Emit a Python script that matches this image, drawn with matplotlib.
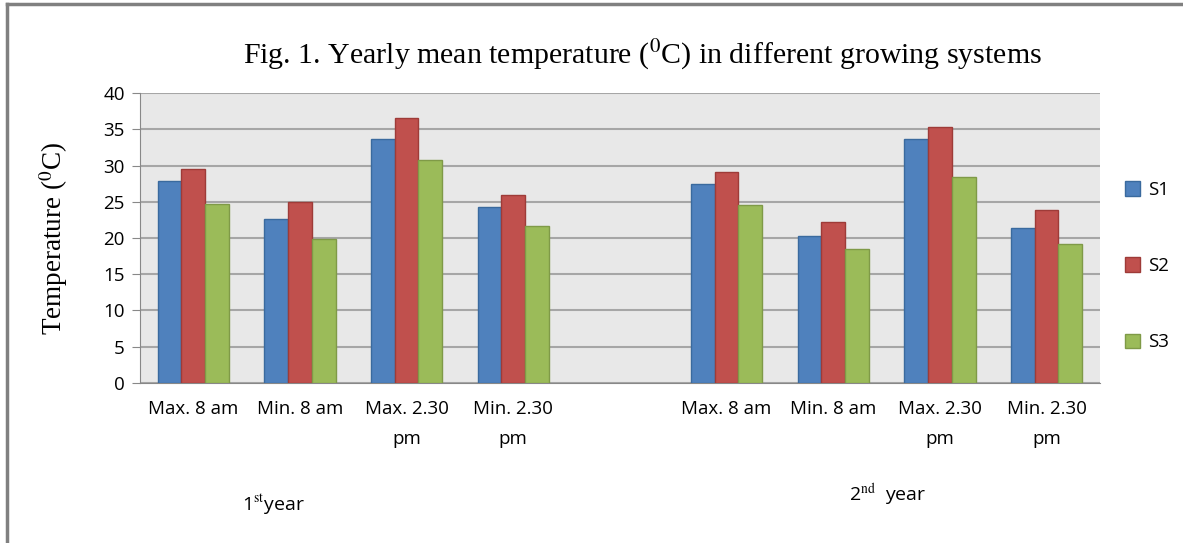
import numpy as np
import matplotlib
matplotlib.use("Agg")
import matplotlib.pyplot as plt
from matplotlib.lines import Line2D

plt.rcParams["mathtext.fontset"] = "stix"

categories = ["Max. 8 am", "Min. 8 am", "Max. 2.30\npm", "Min. 2.30\npm", "",
              "Max. 8 am", "Min. 8 am", "Max. 2.30\npm", "Min. 2.30\npm"]
s1 = [27.8, 22.6, 33.6, 24.3, np.nan, 27.4, 20.3, 33.6, 21.4]
s2 = [29.5, 24.9, 36.6, 25.9, np.nan, 29.1, 22.2, 35.3, 23.9]
s3 = [24.7, 19.8, 30.7, 21.7, np.nan, 24.6, 18.5, 28.4, 19.2]
series = ["S1", "S2", "S3"]
colors = ["#4F81BD", "#C0504D", "#9BBB59"]
edges = ["#3A6A9E", "#9E3B38", "#7F9A47"]

sans = ["Liberation Sans Narrow", "Open Sans", "DejaVu Sans"]
serif = ["Liberation Serif", "DejaVu Serif"]

fig = plt.figure(figsize=(11.83, 5.43), dpi=100)
ax = fig.add_axes([0.1183, 0.2947, 0.8115, 0.534])
ax.set_facecolor("#E8E8E8")

x = np.arange(len(categories))
w = 1 / 4.5
for i, (vals, lab) in enumerate(zip([s1, s2, s3], series)):
    ax.bar(x + (i - 1) * w, vals, width=w, color=colors[i], edgecolor=edges[i],
           linewidth=1, label=lab, zorder=3)

ax.set_xlim(-0.5, len(categories) - 0.5)
ax.set_ylim(0, 40)
ax.set_yticks(range(0, 41, 5))
ax.grid(axis="y", color="#A6A6A6", linewidth=1.5, zorder=0)
ax.set_axisbelow(True)
for s in ["top", "right"]:
    ax.spines[s].set_visible(False)
ax.spines["left"].set_color("#888888")
ax.spines["bottom"].set_color("#888888")
ax.tick_params(axis="y", length=6, color="#888888", labelsize=13.5, pad=5)
ax.tick_params(axis="x", length=0, labelsize=13.5, pad=12)
ax.set_xticks(x)
ax.set_xticklabels(categories, linespacing=1.9)
for t in ax.get_xticklabels() + ax.get_yticklabels():
    t.set_family(sans)

ax.set_ylabel(r"Temperature ($^{0}$C)", family=serif, fontsize=19.5, labelpad=24)

fig.text(0.543, 0.898, r"Fig. 1. Yearly mean temperature ($^{0}$C) in different growing systems",
         family=serif, fontsize=21.5, ha="center", va="center")

fig.text(0.231, 0.07, r"1$^{\mathrm{st}}$year", family=sans, fontsize=14, ha="center", va="center")
fig.text(0.75, 0.088, r"2$^{\mathrm{nd}}$  year", family=sans, fontsize=14, ha="center", va="center")

leg = fig.legend(loc="center left", bbox_to_anchor=(0.937, 0.51), frameon=False,
                 prop={"family": sans, "size": 13.5}, handlelength=0.8, handleheight=0.8,
                 labelspacing=3.1, handletextpad=0.4)

# page frame: top and left edges only
fig.lines.append(Line2D([0.006, 0.006], [0, 0.993], transform=fig.transFigure,
                        color="#808080", linewidth=2.5))
fig.lines.append(Line2D([0.006, 1.0], [0.993, 0.993], transform=fig.transFigure,
                        color="#808080", linewidth=2.5))

fig.savefig("out.png", dpi=100)
